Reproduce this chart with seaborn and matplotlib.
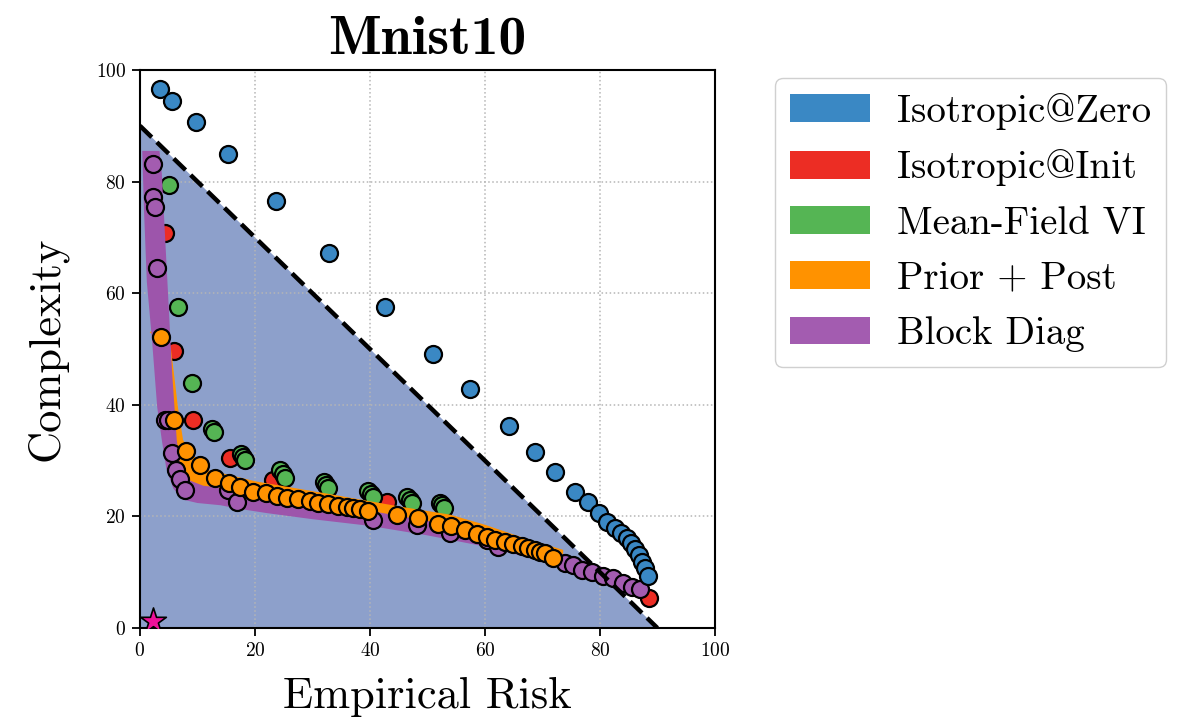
import matplotlib
matplotlib.use("Agg")
import matplotlib.pyplot as plt
from matplotlib.patches import Patch
import seaborn as sns

# ---- data -----------------------------------------------------------------
methods = ["Isotropic@Zero", "Isotropic@Init", "Mean-Field VI", "Prior + Post", "Block Diag"]
colors = ["#3a88c4", "#ec2d24", "#55b554", "#ff9200", "#a35cb0"]

iso_zero_x = [3.5, 5.6, 9.7, 15.3, 23.7, 32.9, 42.6, 51.0, 57.4, 64.2, 68.7, 72.2, 75.7,
              77.9, 79.8, 81.2, 82.6, 83.7, 84.7, 85.4, 86.1, 86.8, 87.3, 87.8, 88.3]
iso_zero_y = [96.6, 94.4, 90.7, 84.9, 76.5, 67.2, 57.5, 49.1, 42.8, 36.2, 31.5, 28.0, 24.4,
              22.6, 20.6, 19.0, 17.9, 17.0, 16.1, 15.2, 14.2, 13.1, 11.8, 10.8, 9.3]

iso_init_x = [4.3, 5.9, 9.2, 15.7, 23.1, 43.0, 88.5]
iso_init_y = [70.8, 49.6, 37.3, 30.4, 26.5, 22.6, 5.4]

mfvi_x = [5.0, 6.6, 9.0, 12.6, 12.9, 17.6, 17.9, 18.3, 24.3, 24.8, 25.2, 32.0, 32.4, 32.7,
          39.7, 40.1, 40.5, 46.5, 46.9, 47.3, 52.2, 52.5, 52.8]
mfvi_y = [79.4, 57.5, 43.9, 35.6, 35.1, 31.2, 30.7, 30.1, 28.3, 27.6, 26.9, 26.2, 25.6, 25.1,
          24.5, 24.0, 23.5, 23.4, 22.9, 22.4, 22.4, 22.0, 21.5]

prior_post_x = [3.7, 5.9, 8.0, 10.4, 13.0, 15.5, 17.4, 19.7, 21.9, 23.8, 25.6, 27.5, 29.6,
                31.0, 32.7, 34.4, 36.0, 37.0, 38.3, 39.7, 44.7, 48.3, 51.8, 54.1, 56.5,
                58.6, 60.3, 61.7, 63.5, 64.9, 66.4, 67.5, 68.7, 69.6, 70.4, 71.8]
prior_post_y = [52.2, 37.3, 31.7, 29.2, 26.9, 26.0, 25.3, 24.4, 24.2, 23.7, 23.3, 23.1, 22.8,
                22.4, 22.2, 21.9, 21.7, 21.5, 21.3, 21.0, 20.3, 19.7, 18.6, 18.3, 17.6,
                16.8, 16.3, 15.8, 15.4, 15.1, 14.7, 14.3, 14.0, 13.6, 13.4, 12.5]

block_diag_x = [2.3, 2.3, 2.6, 3.0, 4.3, 4.9, 5.6, 6.3, 7.0, 7.8, 15.3, 16.9, 40.5, 48.2,
                53.9, 60.3, 62.3, 73.9, 75.3, 76.9, 78.6, 80.5, 82.3, 84.0, 85.6, 87.0]
block_diag_y = [83.2, 77.2, 75.4, 64.5, 37.3, 37.3, 31.4, 28.3, 26.7, 24.7, 24.7, 22.6, 19.4,
                18.5, 17.0, 15.8, 14.5, 11.6, 11.3, 10.4, 10.0, 9.3, 9.0, 8.1, 7.3, 7.0]

# frontier regions of the two structured posteriors (outer edge, then inner edge)
block_band_outer_x = [0.4, 0.7, 1.2, 2.1, 3.0, 3.8, 4.6, 5.8, 7.5, 10, 14, 17, 22, 30, 40,
                      50, 60, 70, 78, 84, 87.5]
block_band_outer_y = [85.5, 75, 62, 51.6, 39.6, 33.7, 28.5, 25.0, 23.0, 22.4, 22.0, 21.4,
                      20.6, 19.5, 18.3, 16.6, 14.6, 12.0, 9.9, 8.0, 6.5]
block_band_inner_x = [88, 84, 78, 70, 60, 50, 40, 30, 20, 15, 11, 8.5, 7, 6.4, 5.6, 4.7,
                      3.8, 3.4]
block_band_inner_y = [7.5, 9.6, 11.8, 14.3, 17.0, 19.2, 21.0, 22.3, 23.8, 25.0, 25.5, 26.5,
                      29, 33.7, 45.7, 63.6, 81.5, 85.5]

prior_band_outer_x = [1.7, 3.5, 5.4, 5.9, 6.6, 7.5, 9.2, 11.8, 15.7, 20, 33, 45, 54, 60,
                      66, 73.6]
prior_band_outer_y = [53.0, 54.0, 50.0, 45.7, 39.6, 33.7, 31.0, 28.3, 27.4, 26.3, 24.0,
                      21.8, 20.3, 18.5, 16.4, 14.0]
prior_band_inner_x = [73.6, 66, 60, 45, 30, 20, 12, 7, 5.0, 4.0, 3.0]
prior_band_inner_y = [12.5, 14.0, 16.0, 20.0, 21.5, 23.0, 24.0, 26.5, 35, 45, 52]

# bound on risk + complexity, and the reference point
bound_x = [0, 90]
bound_y = [90, 0]
star_x = [2.3]
star_y = [1.2]

xticks = [0, 20, 40, 60, 80, 100]
yticks = [0, 20, 40, 60, 80, 100]

# ---- style ----------------------------------------------------------------
sns.set_theme(style="white")
plt.rcParams["font.family"] = ["cmr10", "DejaVu Serif"]
plt.rcParams["axes.formatter.use_mathtext"] = True
plt.rcParams["mathtext.fontset"] = "cm"
plt.rcParams["text.color"] = "black"
plt.rcParams["axes.labelcolor"] = "black"
plt.rcParams["axes.titlecolor"] = "black"

fig = plt.figure(figsize=(11.78, 7.23), dpi=100)
ax = fig.add_axes([0.1188, 0.1314, 0.4881, 0.7718])

# feasible region under the bound
ax.fill_between(bound_x, bound_y, 0, color="#8da0cb", linewidth=0, zorder=0.6)

pt = dict(s=150, edgecolor="black", linewidth=1.6, legend=False, ax=ax)

# methods drawn beneath the frontier bands
sns.scatterplot(x=iso_init_x, y=iso_init_y, color=colors[1], zorder=2, **pt)
sns.scatterplot(x=mfvi_x, y=mfvi_y, color=colors[2], zorder=2, **pt)

ax.fill(prior_band_outer_x + prior_band_inner_x, prior_band_outer_y + prior_band_inner_y,
        color=colors[3], linewidth=0, zorder=2.2)
ax.fill(block_band_outer_x + block_band_inner_x, block_band_outer_y + block_band_inner_y,
        color="#9d55ab", linewidth=0, zorder=2.4)

sns.scatterplot(x=block_diag_x, y=block_diag_y, color=colors[4], zorder=3, **pt)
sns.scatterplot(x=prior_post_x, y=prior_post_y, color=colors[3], zorder=3, **pt)
sns.scatterplot(x=iso_zero_x, y=iso_zero_y, color=colors[0], zorder=3, **pt)

ax.plot(bound_x, bound_y, linestyle="--", color="black", linewidth=3.2, zorder=3.5)

sns.scatterplot(x=star_x, y=star_y, marker="*", s=380, color="#ee1199",
                edgecolor="black", linewidth=1.2, zorder=4, legend=False, ax=ax)

# ---- axes -----------------------------------------------------------------
ax.set_xlim(0, 100)
ax.set_ylim(0, 100)
ax.set_xticks(xticks)
ax.set_yticks(yticks)
ax.set_axisbelow("line")
ax.grid(True, linestyle=":", color="#b5b5b5", linewidth=1.1)
for side in ax.spines.values():
    side.set_color("black")
    side.set_linewidth(1.5)
ax.tick_params(axis="both", which="major", direction="out", length=6, width=1.3,
               labelsize=14, colors="black", bottom=True, left=True, pad=4)

ax.set_title("Mnist10", fontsize=40, fontfamily=["cmb10", "DejaVu Serif"], pad=12)
ax.set_xlabel("Empirical Risk", fontsize=32, labelpad=12)
ax.set_ylabel("Complexity", fontsize=32, labelpad=20)

handles = [Patch(facecolor=c, edgecolor="none", label=m) for m, c in zip(methods, colors)]
leg = fig.legend(handles=handles, loc="upper left", bbox_to_anchor=(0.658, 0.892),
                 bbox_transform=fig.transFigure, fontsize=28, frameon=True,
                 fancybox=True, framealpha=1, edgecolor="#d0d0d0",
                 handlelength=2.05, handleheight=0.72, handletextpad=0.7,
                 labelspacing=0.5, borderpad=0.38, borderaxespad=0)
leg.get_frame().set_linewidth(1.0)

fig.savefig("out.png", dpi=100)
